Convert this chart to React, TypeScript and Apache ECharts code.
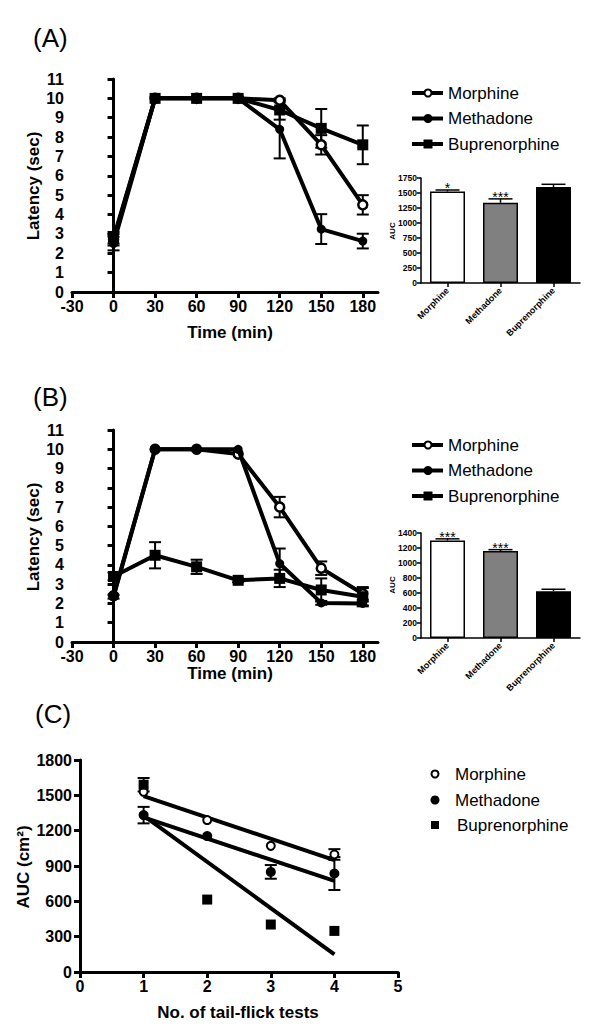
import React, { useEffect, useRef } from "react";
import * as echarts from "echarts";

// ---------- data ----------
const times = [0, 30, 60, 90, 120, 150, 180];
const timeTicks = [-30, 0, 30, 60, 90, 120, 150, 180];
const drugs = ["Morphine", "Methadone", "Buprenorphine"];

// Panel A
const aMorphine = [2.7, 10, 10, 10, 9.9, 7.6, 4.5];
const aMorphineErr = [0.3, 0, 0, 0, 0.1, 0.5, 0.5];
const aMethadone = [2.5, 10, 10, 10, 8.4, 3.25, 2.63];
const aMethadoneErr = [0.35, 0, 0, 0, 1.5, 0.77, 0.38];
const aBup = [2.8, 10, 10, 10, 9.4, 8.45, 7.6];
const aBupErr = [0.3, 0, 0, 0, 0.5, 1.0, 1.0];
const aucA = [1525, 1337, 1600];
const aucAErr = [25, 65, 45];
const aucAStars = ["*", "***", ""];

// Panel B
const bMorphine = [2.4, 10, 10, 9.75, 7.0, 3.83, 2.5];
const bMorphineErr = [0, 0, 0, 0, 0.53, 0.35, 0.3];
const bMethadone = [2.35, 10, 10, 10, 4.07, 2.03, 2.0];
const bMethadoneErr = [0.1, 0, 0, 0, 0.78, 0.1, 0.1];
const bBup = [3.4, 4.5, 3.9, 3.2, 3.3, 2.7, 2.35];
const bBupErr = [0.2, 0.68, 0.37, 0.1, 0.45, 0.6, 0.5];
const aucB = [1300, 1160, 625];
const aucBErr = [22, 18, 25];
const aucBStars = ["***", "***", ""];

// Panel C
const tests = [1, 2, 3, 4];
const cMorphine = [1530, 1290, 1071, 998];
const cMorphineErr = [0, 0, 0, 45];
const cMethadone = [1332, 1154, 850, 836];
const cMethadoneErr = [70, 0, 58, 140];
const cBup = [1590, 615, 403, 349];
const cBupErr = [57, 0, 0, 0];
const fitX = [1, 4];
const cMorphineFit = [1494, 950];
const cMethadoneFit = [1312, 774];
const cBupFit = [1327, 150];

const FONT = "'Liberation Sans', Arial, Helvetica, sans-serif";
const plain = (v: number) => String(v);

const pairs = (xs: number[], ys: number[]) => xs.map((x, i) => [x, ys[i]]);
const triples = (xs: number[], ys: number[], es: number[]) =>
  xs.map((x, i) => [x, ys[i], es[i]]);

function errRender(hw: number, lw: number) {
  return (params: any, api: any) => {
    const x = api.value(0);
    const m = api.value(1);
    const e = api.value(2);
    if (!e) return { type: "group", children: [] };
    const t = api.coord([x, m + e]);
    const b = api.coord([x, m - e]);
    const st = { stroke: "#000", lineWidth: lw };
    return {
      type: "group",
      children: [
        { type: "line", shape: { x1: t[0], y1: t[1], x2: b[0], y2: b[1] }, style: st },
        { type: "line", shape: { x1: t[0] - hw, y1: t[1], x2: t[0] + hw, y2: t[1] }, style: st },
        { type: "line", shape: { x1: b[0] - hw, y1: b[1], x2: b[0] + hw, y2: b[1] }, style: st },
      ],
    };
  };
}

function barErrRender(stars: string[]) {
  return (params: any, api: any) => {
    const x = api.value(0);
    const m = api.value(1);
    const e = api.value(2);
    const base = api.coord([x, m]);
    const t = api.coord([x, m + e]);
    const st = { stroke: "#000", lineWidth: 1.5 };
    const children: any[] = [
      { type: "line", shape: { x1: base[0], y1: base[1], x2: t[0], y2: t[1] }, style: st },
      { type: "line", shape: { x1: t[0] - 12, y1: t[1], x2: t[0] + 12, y2: t[1] }, style: st },
    ];
    const s = stars[params.dataIndex];
    if (s) {
      children.push({
        type: "text",
        x: t[0],
        y: t[1] + 5,
        style: {
          text: s,
          align: "center",
          verticalAlign: "bottom",
          fontSize: 14,
          fontFamily: FONT,
          fill: "#000",
        },
      });
    }
    return { type: "group", children };
  };
}

const openCircle = { color: "#fff", borderColor: "#000", borderWidth: 2.5, opacity: 1 };
const filled = { color: "#000", borderColor: "#000", borderWidth: 0, opacity: 1 };

function lineSeries(idx: number, name: string, ys: number[], symbol: string, style: any, z: number) {
  return {
    type: "line",
    name,
    xAxisIndex: idx,
    yAxisIndex: idx,
    data: pairs(times, ys),
    symbol,
    symbolSize: symbol === "rect" ? 11 : 9,
    showAllSymbol: true,
    lineStyle: { color: "#000", width: 4 },
    itemStyle: style,
    z,
  };
}

function errSeries(idx: number, xs: number[], ys: number[], es: number[], hw = 6) {
  return {
    type: "custom",
    xAxisIndex: idx,
    yAxisIndex: idx,
    renderItem: errRender(hw, 2),
    encode: { x: 0, y: 1 },
    data: triples(xs, ys, es),
    z: 2,
  };
}

const mainAxisLine = { lineStyle: { color: "#000", width: 3 } };
const mainTick = { length: 6, lineStyle: { color: "#000", width: 3 } };
const mainLabel = { color: "#000", fontSize: 16, fontWeight: "bold", fontFamily: FONT, formatter: plain };

function timeXAxis(gi: number) {
  return {
    type: "value",
    gridIndex: gi,
    min: -30,
    max: 191,
    axisLine: { show: true, onZero: false, ...mainAxisLine },
    axisTick: { show: true, ...mainTick, customValues: timeTicks },
    axisLabel: { ...mainLabel, margin: 6, customValues: timeTicks },
    splitLine: { show: false },
  };
}
function latYAxis(gi: number) {
  return {
    type: "value",
    gridIndex: gi,
    min: 0,
    max: 11,
    interval: 1,
    axisLine: { show: true, ...mainAxisLine },
    axisTick: { show: true, ...mainTick },
    axisLabel: { ...mainLabel, margin: 8 },
    splitLine: { show: false },
  };
}
const insetLabel = { color: "#000", fontSize: 8.5, fontWeight: "bold", fontFamily: FONT };
function insetXAxis(gi: number) {
  return {
    type: "category",
    gridIndex: gi,
    data: drugs,
    axisLine: { show: true, lineStyle: { color: "#000", width: 1.5 } },
    axisTick: { show: true, alignWithLabel: true, length: 4, lineStyle: { color: "#000", width: 1.5 } },
    axisLabel: { ...insetLabel, fontSize: 9, rotate: 45, interval: 0, margin: 6 },
    splitLine: { show: false },
  };
}
function insetYAxis(gi: number, max: number, interval: number) {
  return {
    type: "value",
    gridIndex: gi,
    min: 0,
    max,
    interval,
    axisLine: { show: true, lineStyle: { color: "#000", width: 1.5 } },
    axisTick: { show: true, length: 4, lineStyle: { color: "#000", width: 1.5 } },
    axisLabel: { ...insetLabel, margin: 4, formatter: plain },
    splitLine: { show: false },
  };
}

function barSeries(idx: number, vals: number[]) {
  const colors = ["#ffffff", "#808080", "#000000"];
  return {
    type: "bar",
    xAxisIndex: idx,
    yAxisIndex: idx,
    barWidth: 35,
    data: vals.map((v, i) => ({
      value: v,
      itemStyle: { color: colors[i], borderColor: "#000", borderWidth: 1.5 },
    })),
    z: 2,
  };
}
function barErr(idx: number, vals: number[], errs: number[], stars: string[]) {
  return {
    type: "custom",
    xAxisIndex: idx,
    yAxisIndex: idx,
    renderItem: barErrRender(stars),
    encode: { x: 0, y: 1 },
    data: vals.map((v, i) => [i, v, errs[i]]),
    z: 3,
  };
}

function txt(x: number, y: number, text: string, size: number, opts: any = {}) {
  return {
    type: "text",
    x,
    y,
    rotation: opts.rotation || 0,
    style: {
      text,
      fontSize: size,
      fontWeight: opts.bold ? "bold" : "normal",
      fontFamily: FONT,
      fill: "#000",
      align: opts.align || "left",
      verticalAlign: "middle",
    },
  };
}

function lineLegend(y0: number) {
  const rows = [y0, y0 + 25.5, y0 + 51];
  const els: any[] = [];
  rows.forEach((y, i) => {
    els.push({ type: "line", shape: { x1: 412, y1: y, x2: 443, y2: y }, style: { stroke: "#000", lineWidth: 4 } });
    if (i === 0)
      els.push({ type: "circle", shape: { cx: 428, cy: y, r: 3.5 }, style: { fill: "#fff", stroke: "#000", lineWidth: 2 } });
    else if (i === 1) els.push({ type: "circle", shape: { cx: 428, cy: y, r: 4.5 }, style: { fill: "#000" } });
    else els.push({ type: "rect", shape: { x: 423.5, y: y - 4.5, width: 9, height: 9 }, style: { fill: "#000" } });
    els.push(txt(448, y, drugs[i], 17));
  });
  return els;
}

function scatterLegend() {
  const rows = [774, 800, 825];
  const els: any[] = [];
  rows.forEach((y, i) => {
    if (i === 0)
      els.push({ type: "circle", shape: { cx: 435, cy: y, r: 3.5 }, style: { fill: "#fff", stroke: "#000", lineWidth: 2 } });
    else if (i === 1) els.push({ type: "circle", shape: { cx: 435, cy: y, r: 4.5 }, style: { fill: "#000" } });
    else els.push({ type: "rect", shape: { x: 431, y: y - 4, width: 8, height: 8 }, style: { fill: "#000" } });
    els.push(txt(i === 2 ? 457 : 455, y, drugs[i], 17));
  });
  return els;
}

export default function App() {
  const ref = useRef<HTMLDivElement>(null);
  useEffect(() => {
    document.body.style.margin = "0";
    if (!ref.current) return;
    const chart = echarts.init(ref.current, null, { renderer: "svg" });
    const option: any = {
      animation: false,
      backgroundColor: "#fff",
      textStyle: { fontFamily: FONT },
      grid: [
        { left: 72, top: 79, width: 306, height: 213 },
        { left: 421, top: 178, width: 159, height: 105 },
        { left: 72, top: 430, width: 306, height: 212 },
        { left: 421, top: 533, width: 159, height: 105 },
        { left: 80, top: 760, width: 318, height: 212 },
      ],
      xAxis: [
        timeXAxis(0),
        insetXAxis(1),
        timeXAxis(2),
        insetXAxis(3),
        {
          type: "value",
          gridIndex: 4,
          min: 0,
          max: 5,
          interval: 1,
          axisLine: { show: true, onZero: false, ...mainAxisLine },
          axisTick: { show: true, ...mainTick },
          axisLabel: { ...mainLabel, margin: 6 },
          splitLine: { show: false },
        },
      ],
      yAxis: [
        latYAxis(0),
        insetYAxis(1, 1750, 250),
        latYAxis(2),
        insetYAxis(3, 1400, 200),
        {
          type: "value",
          gridIndex: 4,
          min: 0,
          max: 1800,
          interval: 300,
          axisLine: { show: true, ...mainAxisLine },
          axisTick: { show: true, ...mainTick },
          axisLabel: { ...mainLabel, margin: 8 },
          splitLine: { show: false },
        },
      ],
      series: [
        // Panel A
        errSeries(0, times, aMorphine, aMorphineErr),
        errSeries(0, times, aMethadone, aMethadoneErr),
        errSeries(0, times, aBup, aBupErr),
        lineSeries(0, "Morphine", aMorphine, "circle", openCircle, 3),
        lineSeries(0, "Methadone", aMethadone, "circle", filled, 4),
        lineSeries(0, "Buprenorphine", aBup, "rect", filled, 5),
        barSeries(1, aucA),
        barErr(1, aucA, aucAErr, aucAStars),
        // Panel B
        errSeries(2, times, bMorphine, bMorphineErr),
        errSeries(2, times, bMethadone, bMethadoneErr),
        errSeries(2, times, bBup, bBupErr),
        lineSeries(2, "Morphine", bMorphine, "circle", openCircle, 3),
        lineSeries(2, "Methadone", bMethadone, "circle", filled, 4),
        lineSeries(2, "Buprenorphine", bBup, "rect", filled, 5),
        barSeries(3, aucB),
        barErr(3, aucB, aucBErr, aucBStars),
        // Panel C
        errSeries(4, tests, cMorphine, cMorphineErr),
        errSeries(4, tests, cMethadone, cMethadoneErr),
        errSeries(4, tests, cBup, cBupErr),
        {
          type: "line", xAxisIndex: 4, yAxisIndex: 4, data: pairs(fitX, cMorphineFit),
          symbol: "none", lineStyle: { color: "#000", width: 4 }, z: 2,
        },
        {
          type: "line", xAxisIndex: 4, yAxisIndex: 4, data: pairs(fitX, cMethadoneFit),
          symbol: "none", lineStyle: { color: "#000", width: 4 }, z: 2,
        },
        {
          type: "line", xAxisIndex: 4, yAxisIndex: 4, data: pairs(fitX, cBupFit),
          symbol: "none", lineStyle: { color: "#000", width: 4 }, z: 2,
        },
        {
          type: "scatter", name: "Morphine", xAxisIndex: 4, yAxisIndex: 4, data: pairs(tests, cMorphine),
          symbol: "circle", symbolSize: 8,
          itemStyle: { color: "#fff", borderColor: "#000", borderWidth: 2, opacity: 1 }, z: 4,
        },
        {
          type: "scatter", name: "Methadone", xAxisIndex: 4, yAxisIndex: 4, data: pairs(tests, cMethadone),
          symbol: "circle", symbolSize: 10, itemStyle: { color: "#000", opacity: 1 }, z: 4,
        },
        {
          type: "scatter", name: "Buprenorphine", xAxisIndex: 4, yAxisIndex: 4, data: pairs(tests, cBup),
          symbol: "rect", symbolSize: 10, itemStyle: { color: "#000", opacity: 1 }, z: 4,
        },
      ],
      graphic: [
        txt(33, 38, "(A)", 26),
        txt(33, 397, "(B)", 26),
        txt(35, 714, "(C)", 26),
        txt(33.5, 186, "Latency (sec)", 17, { bold: true, align: "center", rotation: Math.PI / 2 }),
        txt(33.5, 537, "Latency (sec)", 17, { bold: true, align: "center", rotation: Math.PI / 2 }),
        txt(230, 332, "Time (min)", 17, { bold: true, align: "center" }),
        txt(230, 673, "Time (min)", 17, { bold: true, align: "center" }),
        txt(392, 231, "AUC", 8, { bold: true, align: "center", rotation: Math.PI / 2 }),
        txt(392, 585, "AUC", 8, { bold: true, align: "center", rotation: Math.PI / 2 }),
        txt(23.5, 867, "AUC (cm²)", 17, { bold: true, align: "center", rotation: Math.PI / 2 }),
        txt(238, 1012, "No. of tail-flick tests", 17, { bold: true, align: "center" }),
        ...lineLegend(93),
        ...lineLegend(445),
        ...scatterLegend(),
      ],
    };
    chart.setOption(option);
    return () => chart.dispose();
  }, []);
  return (
    <div
      ref={ref}
      style={{ position: "absolute", left: 0, top: 0, width: 600, height: 1032, background: "#fff" }}
    />
  );
}
